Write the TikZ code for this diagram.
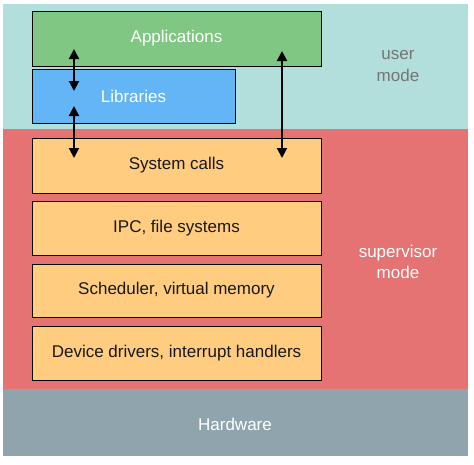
\documentclass[tikz,border=0pt]{standalone}
\usepackage{fontspec}
\setmainfont{Liberation Sans}
\usetikzlibrary{arrows.meta}
\definecolor{userbg}{HTML}{B2DFDB}
\definecolor{supbg}{HTML}{E57373}
\definecolor{hwbg}{HTML}{90A4AE}
\definecolor{appc}{HTML}{81C784}
\definecolor{libc}{HTML}{64B5F6}
\definecolor{kerc}{HTML}{FFCC80}
\definecolor{modegray}{HTML}{757575}
\tikzset{
  layer/.style={draw=black, line width=1pt, minimum width=289pt, minimum height=54pt, inner sep=0pt, font=\fontsize{17}{20}\selectfont},
  kbox/.style={layer, fill=kerc, text=black!90},
  modelabel/.style={align=center, font=\fontsize{17}{21.7}\selectfont},
  arr/.style={line width=2pt, {Triangle[width=10pt,length=10pt]}-{Triangle[width=10pt,length=10pt]}},
}
\begin{document}
\begin{tikzpicture}[x=1pt,y=-1pt]
\useasboundingbox (0,0) rectangle (474,464);
% mode bands
\fill[userbg] (3,4) rectangle (468,129);
\fill[supbg] (3,129) rectangle (468,389);
\fill[hwbg] (3,389) rectangle (468,456);
% layers
\node[layer, fill=appc, text=white, minimum height=55pt] (app) at (176.5,38.5) {\raisebox{-1pt}{Applications}};
\node[layer, fill=libc, text=white, minimum width=203pt] (lib) at (133.5,96) {\raisebox{-1pt}{Libraries}};
\node[kbox, minimum height=55pt] (sys) at (176.5,165.5) {\raisebox{-1pt}{System calls}};
\node[kbox] (ipc) at (176.5,228) {\raisebox{-1pt}{IPC, file systems}};
\node[kbox, minimum height=53pt] (sch) at (176.5,290.5) {\raisebox{-1pt}{Scheduler, virtual memory}};
\node[kbox] (dev) at (176.5,353) {\raisebox{-1pt}{Device drivers, interrupt handlers}};
% labels
\node[modelabel, text=modegray] (user) at (398,66) {user\\mode};
\node[modelabel, text=white] (sup) at (398,262) {supervisor\\mode};
\node[font=\fontsize{17}{20}\selectfont, text=white] (hw) at (235,424) {Hardware};
% arrow end points
\coordinate (a1) at (74,49);
\coordinate (l1) at (74,91);
\coordinate (l2) at (74,106);
\coordinate (s1) at (74,158);
\coordinate (a2) at (282,51);
\coordinate (s2) at (282,158);
\draw[arr] (a1) -- (l1);
\draw[arr] (l2) -- (s1);
\draw[arr] (a2) -- (s2);
\end{tikzpicture}
\end{document}
